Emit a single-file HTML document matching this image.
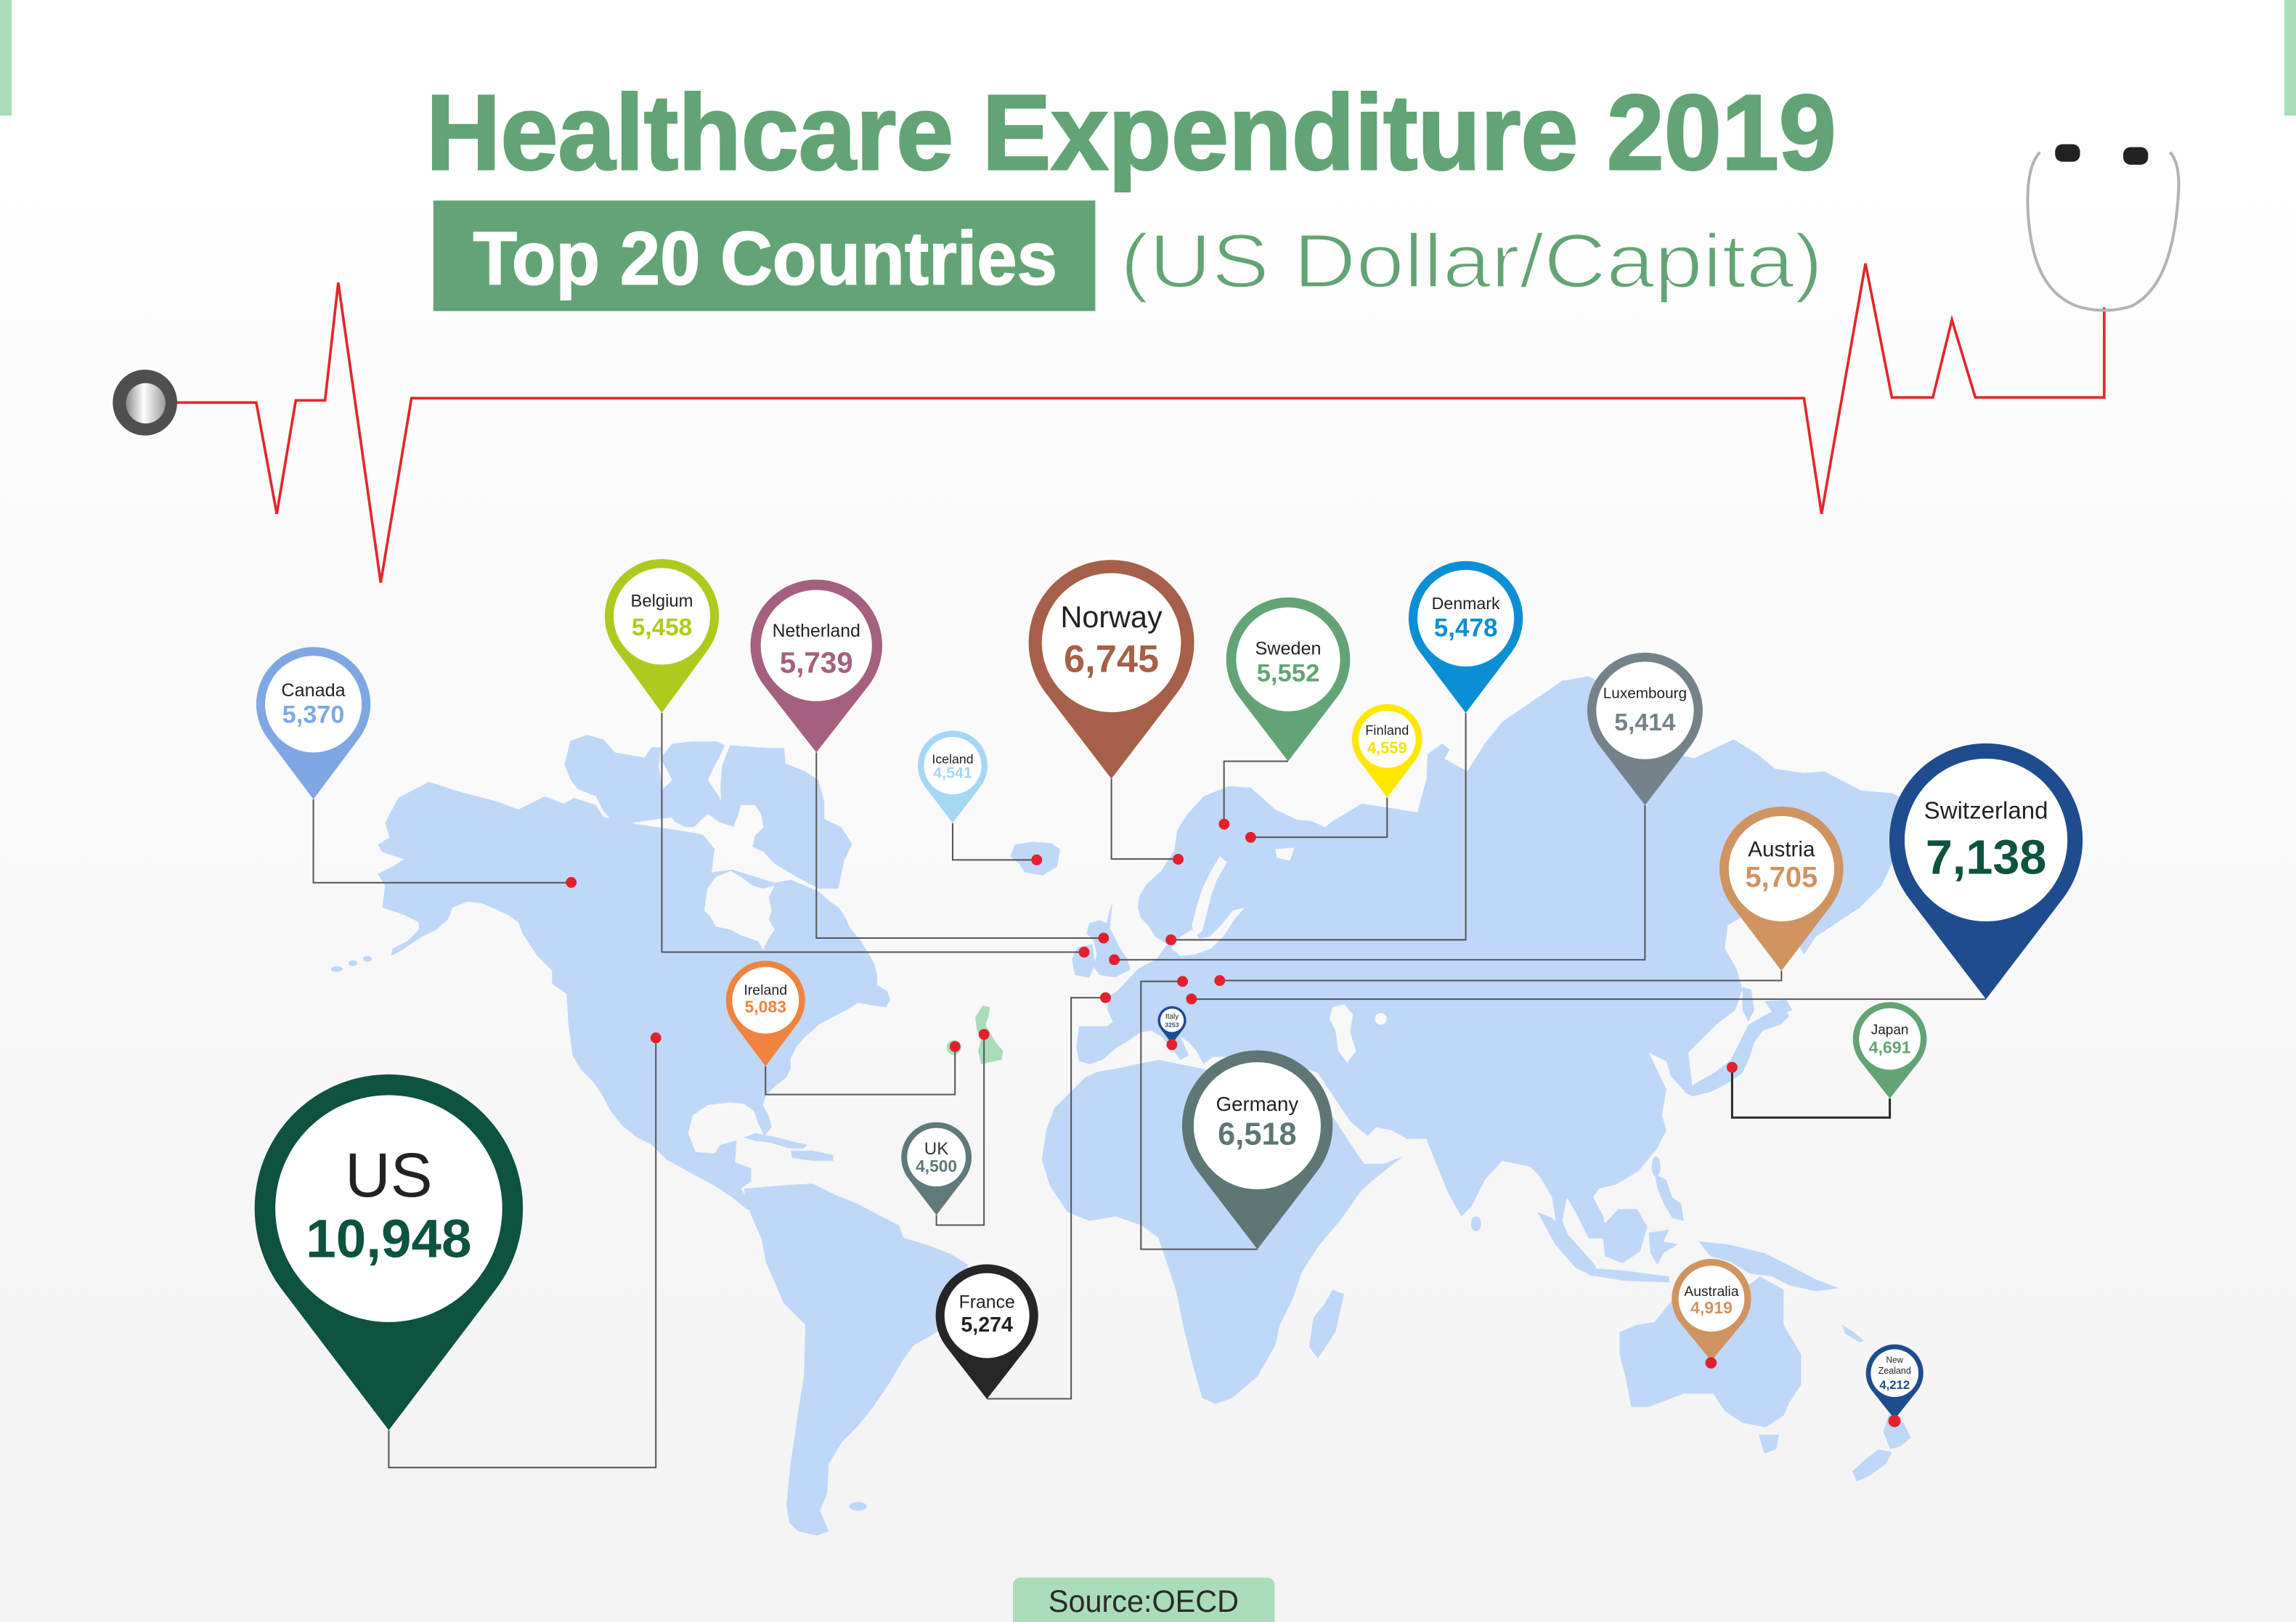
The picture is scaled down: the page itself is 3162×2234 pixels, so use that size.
<!DOCTYPE html>
<html>
<head>
<meta charset="utf-8">
<style>
html,body{margin:0;padding:0;background:#ffffff;}
svg{display:block;}
</style>
</head>
<body>
<svg xmlns="http://www.w3.org/2000/svg" width="3162" height="2234" viewBox="0 0 1568 1108" preserveAspectRatio="none" font-family="'Liberation Sans', Arial, sans-serif">
<defs>
  <linearGradient id="bg" x1="0" y1="0" x2="0" y2="1">
    <stop offset="0" stop-color="#ffffff"/>
    <stop offset="1" stop-color="#f3f3f3"/>
  </linearGradient>
  <linearGradient id="chest" x1="0" y1="0" x2="1" y2="0">
    <stop offset="0" stop-color="#8a8a8a"/>
    <stop offset="0.45" stop-color="#ffffff"/>
    <stop offset="1" stop-color="#9a9a9a"/>
  </linearGradient>
</defs>

<!-- background -->
<rect x="0" y="0" width="1568" height="1108" fill="url(#bg)"/>
<rect x="0" y="0" width="8" height="79" fill="#a9ddb9"/>
<rect x="1560" y="0" width="8" height="79" fill="#a9ddb9"/>

<!-- Titles -->
<text x="291" y="115.6" font-size="73" font-weight="bold" fill="#62a475" stroke="#62a475" stroke-width="1.4" textLength="963" lengthAdjust="spacingAndGlyphs">Healthcare Expenditure 2019</text>
<rect x="296" y="137" width="452" height="75.5" fill="#62a475"/>
<text x="323" y="194.2" font-size="51.5" font-weight="bold" fill="#ffffff" stroke="#ffffff" stroke-width="0.8" textLength="399" lengthAdjust="spacingAndGlyphs">Top 20 Countries</text>
<text x="765" y="196.2" font-size="52" fill="#62a475" stroke="#fbfbfb" stroke-width="1.3" textLength="480" lengthAdjust="spacingAndGlyphs">(US Dollar/Capita)</text>

<!-- ECG line -->
<polyline points="118,275 175,275 189,351 202,273.5 222,273.5 231,193 260,398 281,272 1232,272 1244,351 1274,180 1292,271.5 1320,271.5 1333,218.5 1349,271.5 1437,271.5 1437,210" fill="none" stroke="#e3262c" stroke-width="1.8" stroke-linejoin="miter"/>
<!-- stethoscope tube -->
<path d="M1393,104 C1386,112 1384,126 1385,146 C1387,176 1395,200 1418,209 Q1437,215 1456,209 C1473,200 1482,180 1486,150 C1489,126 1489,112 1482,104" fill="none" stroke="#b3b3b3" stroke-width="2"/>
<rect x="1403.5" y="98.5" width="17" height="12" rx="5" fill="#222"/>
<rect x="1450" y="100.5" width="17" height="12" rx="5" fill="#222"/>
<!-- chest piece -->
<ellipse cx="99" cy="275" rx="22" ry="22.5" fill="#4f4f4f"/>
<ellipse cx="99.5" cy="275.5" rx="13.5" ry="13.8" fill="url(#chest)"/>

<!-- MAP -->
<g fill="#bfd8f8">
  <!-- North America -->
  <path d="M263,562 L272,545 L293,534 L311,540 L341,548 L354,553 L372,544 L385,549 L392,545 L407,550 L412,558 L435,563 L462,567 L480,570 L488,580 L486,596 L500,594 L529,603 L540,601 L550,605 L559,609 L567,616 L573,620 L578,628 L580,633 L588,643 L593,651 L597,658 L599,666 L599,673 L606,677 L608,683 L605,688 L597,687 L586,685 L578,690 L559,700 L555,704 L550,708 L544,715 L540,723 L540,730 L537,736 L527,744 L523,749 L521,755 L525,762 L527,770 L522,776 L518,768 L515,759 L508,754 L498,753 L483,755 L473,762 L470,774 L475,787 L488,788 L492,782 L503,779 L502,794 L513,798 L513,807 L506,812 L511,820 L521,822 L528,827 L524,831 L510,826 L500,818 L488,810 L473,802 L455,792 L445,782 L435,777 L425,769 L417,759 L410,746 L405,739 L397,731 L391,721 L388,698 L387,679 L377,672 L377,663 L367,653 L357,638 L354,630 L347,625 L329,617 L319,616 L309,620 L306,628 L298,635 L288,640 L273,650 L267,653 L268,648 L278,643 L286,635 L286,630 L276,625 L261,620 L263,605 L258,597 L268,592 L276,587 L261,582 L258,577 L266,572 Z"/>
  <ellipse cx="230" cy="662" rx="4" ry="2"/>
  <ellipse cx="241" cy="658" rx="3" ry="2"/>
  <ellipse cx="251" cy="655" rx="3" ry="2"/>
  <!-- Arctic islands -->
  <path d="M389.5,506 L401,502 L412,505 L420,514 L440,517.5 L445,510.5 L451.5,510.5 L450,524 L453,541.5 L463,545 L463,558 L453,559 L435,561.5 L421,564 L412,554 L407,544 L394.5,539 L389.5,532.5 L385.5,522.5 Z"/>
  <path d="M459,508 L472,506.5 L489,506.5 L495,509 L491,518 L487,525 L483.5,533 L491,544 L495,552 L500.5,556 L501.5,565 L491,561.5 L483.5,556 L479.5,559.5 L474,565 L468,565 L461,561.5 L455,554 L451,548 L453,538.5 L459,533 L455,525 L451,518 Z"/>
  <path d="M498.5,509 L525,511 L535.5,511 L536.5,521.5 L550,527 L559,533 L563,548 L563,559.5 L574.5,565 L582,576.5 L576.5,588 L572.5,607 L559,607 L544,599 L529,590 L521.5,582 L514,578.5 L515.5,571 L521.5,565 L519.5,555.5 L515.5,550 L506,550 L504,557.5 L500.5,565 L493,555.5 L492,538.5 L493,523.5 Z"/>
  <!-- Caribbean -->
  <path d="M508,777 L516,774 L531,777 L544,780.5 L551.5,782 L549,784.5 L539,784.5 L526,780.5 L516,779.5 Z"/>
  <path d="M540,786 L555,786 L569,789 L569,793 L555,793 L541,791 Z"/>
  <!-- South America -->
  <path d="M508,812 L531,810 L555,808.5 L570,816 L585,822 L602,831 L614,837 L617,845.5 L635,851 L650,857 L661,864 L660,872 L650,895 L640,910 L624,919 L616,930 L608,944 L595,963 L585,975 L575,985 L566,1000 L565,1020 L560,1032 L566,1046 L558,1049 L545,1046 L539,1040 L537,1028 L540,999 L545,965 L549,940 L550,905 L535,890 L523,862 L520,846 L515,835 L510,822 Z"/>
  <ellipse cx="586" cy="1029" rx="6" ry="3"/>
  <!-- Iceland -->
  <path d="M693,577 L705,575 L718,576 L724,580 L722,592 L712,598 L700,596 L696,590 L690,585 Z"/>
  <!-- Great Britain & Ireland -->
  <path d="M759.7,616.3 L757,625 L756,630.5 L751,628.7 L744,630.5 L742,637.6 L747,643 L749,652 L747,660.6 L751,666 L761.5,667.7 L772,662.4 L770,655.3 L765,648 L761.5,641 L758,634 Z"/>
  <path d="M736,647 L746,645 L748,658 L744,668 L734,666 L732,655 Z"/>
  <!-- Eurasia -->
  <path d="M784,632 L779,627 L777,620 L778,612 L783,604 L793,595 L802,581 L804,567 L811,556 L822,544 L839,537 L854,538 L861,544 L871,553 L886,560 L896,561 L905,565 L910,561 L930,549 L950,552 L968,555 L974,533 L986,518 L1002,527 L1014,508 L1026,493 L1045,480 L1067,465 L1085,462 L1100,470 L1110,490 L1138,514 L1157,518 L1184,505 L1200,515 L1212,525 L1231,528 L1246,527 L1271,540 L1293,542 L1300,546 L1298,570 L1292,590 L1285,605 L1270,620 L1255,630 L1240,640 L1232,652 L1226,642 L1222,625 L1215,610 L1205,618 L1192,625 L1180,632 L1178,648 L1186,662 L1190,676 L1185,690 L1172,700 L1160,712 L1153,719 L1156,744 L1150,745 L1141,735 L1138,725 L1126,719 L1138,744 L1135,762 L1138,772 L1132,784 L1119,800 L1104,809 L1092,812 L1088,818 L1095,831 L1098,846 L1085,846 L1076,828 L1070,818 L1067,834 L1073,849 L1079,862 L1070,855 L1063,838 L1060,818 L1051,803 L1045,797 L1026,793 L1014,806 L1005,824 L998,831 L989,815 L980,793 L974,778 L961,778 L950,772 L940,770 L934,776 L922,766 L910,748 L900,733 L880,726 L860,722 L840,722 L828,722 L822,727 L817,718 L812,712 L806,708 L812,721 L806,724 L800,716 L793,708 L786,704 L779,705 L769,712 L762,716 L753,724 L744,727 L737,725 L735,715 L737,701 L756,701 L760,698 L756,689 L758,680 L763,677 L777,662 L790,655 L797,645 L789,640 Z"/>
  <path d="M975,515 L985,508 L990,512 L980,530 L974,535 Z"/>
  <path d="M1190,674 L1196,676 L1198,690 L1194,698 L1190,690 Z"/>
  <!-- Japan -->
  <path d="M1218,688 L1222,694 L1216,700 L1204,704 L1198,712 L1195,722 L1190,733 L1180,740 L1168,746 L1156,749 L1150,746 L1158,740 L1172,732 L1182,724 L1188,712 L1194,700 L1206,693 Z"/>
  <path d="M1205,684 L1220,683 L1224,690 L1212,694 Z"/>
  <!-- SE Asia -->
  <ellipse cx="1131" cy="797" rx="3" ry="7"/>
  <path d="M1130,802 L1138,806 L1142,818 L1148,822 L1150,834 L1142,832 L1136,822 L1132,812 Z"/>
  <path d="M1094,838 L1105,826 L1118,826 L1125,838 L1120,855 L1108,863 L1096,858 Z"/>
  <path d="M1050,828 L1060,832 L1075,848 L1090,865 L1088,872 L1076,866 L1062,850 Z"/>
  <path d="M1084,866 L1110,868 L1140,872 L1140,876 L1110,875 L1085,871 Z"/>
  <path d="M1126,842 L1140,840 L1136,848 L1146,850 L1136,856 L1132,864 L1127,856 Z"/>
  <path d="M1160,848 L1180,850 L1205,856 L1225,866 L1240,874 L1256,880 L1240,882 L1222,878 L1210,872 L1195,870 L1182,862 L1168,858 Z"/>
  <ellipse cx="1008" cy="836" rx="3.5" ry="5"/>
  <!-- Africa -->
  <path d="M741,736 L732,745 L720,757 L714.5,772 L711.5,792 L717,810 L729,828 L744,834 L762,831 L779.5,837 L791,845.5 L797,863 L803,881 L809,910 L815,934 L821,955 L830,959 L841.5,955 L859,940 L871,919 L874,905 L883,887 L889,869 L900.6,851 L915,834 L930,813 L939,805 L958,790 L945,795 L932,795 L928,790 L915,770 L903,752 L893,735 L850,730 L836,733 L821,730 L791,724 L776.5,727 L762,730 L750,732 Z"/>
  <path d="M910,881 L918,884 L912,910 L900,928 L894,920 L897,900 L905,890 Z"/>
  <!-- Australia / NZ -->
  <path d="M1106,910 L1118,905 L1130,903 L1150,878 L1174,872 L1190,881 L1202,872 L1218,881 L1218,905 L1230,925 L1230,946 L1222,958 L1218,967 L1206,975 L1190,972 L1178,964 L1170,952 L1150,952 L1126,961 L1114,961 L1110,940 L1106,925 Z"/>
  <path d="M1201,980 L1215,980 L1213,990 L1205,993 Z"/>
  <path d="M1290,966 L1300,972 L1305,982 L1298,988 L1291,990 L1286,978 Z"/>
  <path d="M1283,990 L1292,992 L1288,1000 L1277,1008 L1268,1012 L1265,1005 L1275,996 Z"/>
  <path d="M1258,905 L1266,910 L1273,916 L1270,917 L1260,911 Z"/>
</g>
<!-- water bodies -->
<g fill="#f8f8f8">
  <path d="M483,607 L489,599 L499,595 L506,599 L514,605 L521,607 L529,605 L525,613 L527,622 L525,628 L529,635 L525,641 L521,649 L518,643 L506,639 L499,635 L489,633 L485,626 L481,622 Z"/>
  <path d="M833,585 L838,589 L831,601 L827,612 L824,625 L821,636 L816,640 L814,632 L817,620 L821,607 L827,595 Z"/>
  <path d="M800,648 L806,640 L814,635 L819,641 L826,640 L834,632 L842,622 L850,620 L843,628 L836,639 L827,648 L816,652 L806,653 Z"/>
  <path d="M871,580 L884,579 L881,588 L872,586 Z"/>
  <path d="M910,688 L918,686 L924,693 L922,705 L926,718 L920,726 L914,718 L912,704 L908,696 Z"/>
  <ellipse cx="943" cy="696" rx="4" ry="4"/>
</g>
<!-- green UK & Ireland -->
<path d="M671,687 L676,688 L675,695 L673,700 L676,705 L680,712 L685,718 L684,724 L670,727 L668,718 L670,710 L667,703 L666,695 Z" fill="#a9ddb9"/>
<ellipse cx="651.5" cy="715.5" rx="5" ry="5" fill="#a9ddb9"/>

<!-- connector lines -->
<g fill="none" stroke="#555" stroke-width="1">
  <polyline points="214,546 214,603 390,603"/>
  <polyline points="265.5,977 265.5,1002.5 447.9,1002.5 447.9,709"/>
  <polyline points="452,487 452,650.4 740.4,650.4"/>
  <polyline points="557.5,514 557.5,640.8 753.7,640.8"/>
  <polyline points="650.6,562.3 650.6,587.4 708,587.4"/>
  <polyline points="759,532 759,586.8 804.6,586.8"/>
  <polyline points="879.7,520 835.9,520 835.9,563"/>
  <polyline points="947.3,544.8 947.3,571.9 854.1,571.9"/>
  <polyline points="1001,487 1001,642 799.7,642"/>
  <polyline points="1123.4,550.1 1123.4,655.6 761,655.6"/>
  <polyline points="1216.6,663.2 1216.6,669.8 833,669.8"/>
  <polyline points="1356.3,682.5 813.7,682.5"/>
  <polyline points="807.6,670.4 779.2,670.4 779.2,853.4 858.7,853.4"/>
  <polyline points="755,681.5 731.5,681.5 731.5,955.5 674,955.5"/>
  <polyline points="672,706.6 672,836.9 639.5,836.9 639.5,830"/>
  <polyline points="652.2,714.9 652.2,747.7 522.8,747.7 522.8,728.4"/>
</g>
<polyline points="1182.9,729.1 1182.9,763.4 1290.6,763.4 1290.6,750.4" fill="none" stroke="#2b2b2b" stroke-width="1.5"/>

<!-- red dots -->
<g fill="#e3202b">
  <circle cx="390.1" cy="602.8" r="3.7"/>
  <circle cx="447.9" cy="709" r="3.7"/>
  <circle cx="740.4" cy="650.4" r="3.7"/>
  <circle cx="753.7" cy="640.8" r="3.7"/>
  <circle cx="708" cy="587.4" r="3.7"/>
  <circle cx="804.6" cy="587" r="3.7"/>
  <circle cx="836" cy="563" r="3.7"/>
  <circle cx="854.1" cy="572" r="3.7"/>
  <circle cx="799.7" cy="642" r="3.7"/>
  <circle cx="761" cy="655.6" r="3.7"/>
  <circle cx="833" cy="669.8" r="3.7"/>
  <circle cx="813.7" cy="682.4" r="3.7"/>
  <circle cx="807.6" cy="670.4" r="3.7"/>
  <circle cx="755" cy="681.5" r="3.7"/>
  <circle cx="672" cy="706.6" r="3.7"/>
  <circle cx="652.2" cy="714.9" r="3.7"/>
  <circle cx="1182.9" cy="729.1" r="3.7"/>
</g>

<!-- PINS -->
<!-- Canada -->
<path d="M214,546 L182.8,504.4 A39,39 0 1,1 245.2,504.4 Z" fill="#7fa7e4"/>
<circle cx="214" cy="481" r="33" fill="#fff"/>
<text x="214" y="475.7" font-size="12.5" text-anchor="middle" fill="#222">Canada</text>
<text x="214" y="493.7" font-size="17" font-weight="bold" text-anchor="middle" fill="#7fa7e4">5,370</text>

<!-- Belgium -->
<path d="M452,487 L420.6,444 A39,39 0 1,1 483.4,444 Z" fill="#afca1f"/>
<circle cx="452" cy="421" r="33" fill="#fff"/>
<text x="452" y="414.5" font-size="11.8" text-anchor="middle" fill="#222">Belgium</text>
<text x="452" y="433.9" font-size="16.5" font-weight="bold" text-anchor="middle" fill="#afca1f">5,458</text>

<!-- Netherland -->
<path d="M557.5,514 L522.1,468.7 A45,45 0 1,1 592.9,468.7 Z" fill="#a5607f"/>
<circle cx="557.5" cy="441" r="38" fill="#fff"/>
<text x="557.5" y="435" font-size="12.3" text-anchor="middle" fill="#222">Netherland</text>
<text x="557.5" y="459.4" font-size="20" font-weight="bold" text-anchor="middle" fill="#a5607f">5,739</text>

<!-- Norway -->
<path d="M759,532 L714.1,473.3 A56.5,56.5 0 1,1 803.9,473.3 Z" fill="#a65f48"/>
<circle cx="759" cy="439" r="47.5" fill="#fff"/>
<text x="759" y="428.6" font-size="20.5" text-anchor="middle" fill="#222">Norway</text>
<text x="759" y="459" font-size="26" font-weight="bold" text-anchor="middle" fill="#a65f48">6,745</text>

<!-- Iceland -->
<path d="M650.6,562.3 L631.7,537.4 A23.8,23.8 0 1,1 669.5,537.4 Z" fill="#a6d8f5"/>
<circle cx="650.6" cy="523" r="19.6" fill="#fff"/>
<text x="650.6" y="521.5" font-size="8.8" text-anchor="middle" fill="#222">Iceland</text>
<text x="650.6" y="531.4" font-size="10.6" font-weight="bold" text-anchor="middle" fill="#a6d8f5">4,541</text>

<!-- Ireland -->
<path d="M522.8,728.4 L501.2,699.5 A27,27 0 1,1 544.4,699.5 Z" fill="#f0833f"/>
<circle cx="522.8" cy="683.3" r="22.8" fill="#fff"/>
<text x="522.8" y="679.4" font-size="9.7" text-anchor="middle" fill="#222">Ireland</text>
<text x="522.8" y="691.7" font-size="11.4" font-weight="bold" text-anchor="middle" fill="#f0833f">5,083</text>

<!-- US -->
<path d="M265.5,977 L192.6,881 A91.6,91.6 0 1,1 338.4,881 Z" fill="#0e5240"/>
<circle cx="265.5" cy="825.6" r="77.5" fill="#fff"/>
<text x="265.5" y="817.4" font-size="43" text-anchor="middle" fill="#222">US</text>
<text x="265.5" y="858.8" font-size="37" font-weight="bold" text-anchor="middle" fill="#0e5240">10,948</text>

<!-- UK -->
<path d="M639.5,830 L620.4,805.1 A24,24 0 1,1 658.6,805.1 Z" fill="#5f7a78"/>
<circle cx="639.5" cy="790.5" r="20" fill="#fff"/>
<text x="639.5" y="788.5" font-size="12" text-anchor="middle" fill="#333">UK</text>
<text x="639.5" y="800.6" font-size="11.3" font-weight="bold" text-anchor="middle" fill="#5f7a78">4,500</text>

<!-- France -->
<path d="M674,955.7 L646.4,920.2 A35,35 0 1,1 701.6,920.2 Z" fill="#262626"/>
<circle cx="674" cy="898.7" r="29" fill="#fff"/>
<text x="674" y="893.6" font-size="12.3" text-anchor="middle" fill="#222">France</text>
<text x="674" y="909.6" font-size="14.2" font-weight="bold" text-anchor="middle" fill="#222">5,274</text>

<!-- Germany -->
<path d="M858.7,853.4 L818,800.3 A51.4,51.4 0 1,1 899.4,800.3 Z" fill="#5e7674"/>
<circle cx="858.6" cy="769" r="43.4" fill="#fff"/>
<text x="858.6" y="758.9" font-size="13.7" text-anchor="middle" fill="#222">Germany</text>
<text x="858.6" y="782" font-size="21.5" font-weight="bold" text-anchor="middle" fill="#5e7674">6,518</text>

<!-- Italy -->
<path d="M800.4,712.9 L792.7,703 A9.75,9.75 0 1,1 808.1,703 Z" fill="#1f4c8f"/>
<circle cx="800.4" cy="697" r="8" fill="#fff"/>
<text x="800.4" y="695.8" font-size="5" text-anchor="middle" fill="#222">Italy</text>
<text x="800.4" y="701.5" font-size="4.3" font-weight="bold" text-anchor="middle" fill="#1f4c8f">3253</text>
<circle cx="800.3" cy="713.6" r="3.7" fill="#e3202b"/>

<!-- Sweden -->
<path d="M879.7,520 L846.1,476.1 A42.3,42.3 0 1,1 913.3,476.1 Z" fill="#62a475"/>
<circle cx="879.7" cy="450.4" r="35.5" fill="#fff"/>
<text x="879.7" y="447" font-size="12.5" text-anchor="middle" fill="#222">Sweden</text>
<text x="879.7" y="465.5" font-size="17.2" font-weight="bold" text-anchor="middle" fill="#62a475">5,552</text>

<!-- Finland -->
<path d="M947.3,544.8 L928.2,519.5 A24,24 0 1,1 966.4,519.5 Z" fill="#ffe800"/>
<circle cx="947.3" cy="505" r="19.5" fill="#fff"/>
<text x="947.3" y="502" font-size="9.1" text-anchor="middle" fill="#222">Finland</text>
<text x="947.3" y="514.5" font-size="10.9" font-weight="bold" text-anchor="middle" fill="#f7e000">4,559</text>

<!-- Denmark -->
<path d="M1001,487 L969.9,445.8 A39,39 0 1,1 1032.1,445.8 Z" fill="#0a8fd5"/>
<circle cx="1001" cy="422.3" r="33" fill="#fff"/>
<text x="1001" y="416.2" font-size="11.5" text-anchor="middle" fill="#222">Denmark</text>
<text x="1001" y="434.6" font-size="17.4" font-weight="bold" text-anchor="middle" fill="#0a8fd5">5,478</text>

<!-- Luxembourg -->
<path d="M1123.4,550.1 L1092.2,509.3 A39.4,39.4 0 1,1 1154.6,509.3 Z" fill="#74828a"/>
<circle cx="1123.4" cy="485.3" r="33.3" fill="#fff"/>
<text x="1123.4" y="477" font-size="10.3" text-anchor="middle" fill="#222">Luxembourg</text>
<text x="1123.4" y="499" font-size="16.7" font-weight="bold" text-anchor="middle" fill="#74828a">5,414</text>

<!-- Austria -->
<path d="M1216.6,663.2 L1183,619 A42.3,42.3 0 1,1 1250.2,619 Z" fill="#d09461"/>
<circle cx="1216.6" cy="593.4" r="36" fill="#fff"/>
<text x="1216.6" y="585.1" font-size="14.7" text-anchor="middle" fill="#222">Austria</text>
<text x="1216.6" y="605.9" font-size="19.8" font-weight="bold" text-anchor="middle" fill="#d09461">5,705</text>

<!-- Switzerland -->
<path d="M1356.3,682.6 L1303.8,613.8 A66,66 0 1,1 1408.8,613.8 Z" fill="#1f4c8f"/>
<circle cx="1356.3" cy="573.8" r="55.6" fill="#fff"/>
<text x="1356.3" y="559.1" font-size="16.4" text-anchor="middle" fill="#222">Switzerland</text>
<text x="1356.3" y="597" font-size="33" font-weight="bold" text-anchor="middle" fill="#0e5240">7,138</text>

<!-- Japan -->
<path d="M1290.6,750.4 L1270.8,725.3 A25.2,25.2 0 1,1 1310.4,725.3 Z" fill="#62a475"/>
<circle cx="1290.6" cy="709.7" r="21" fill="#fff"/>
<text x="1290.6" y="706.5" font-size="9.4" text-anchor="middle" fill="#222">Japan</text>
<text x="1290.6" y="719.4" font-size="11.5" font-weight="bold" text-anchor="middle" fill="#62a475">4,691</text>

<!-- Australia -->
<path d="M1168.7,929.7 L1147.9,904.3 A27.1,27.1 0 1,1 1189.7,904.3 Z" fill="#d09461"/>
<circle cx="1168.8" cy="887.1" r="22.5" fill="#fff"/>
<text x="1168.8" y="885.4" font-size="9.6" text-anchor="middle" fill="#222">Australia</text>
<text x="1168.8" y="897.2" font-size="11.5" font-weight="bold" text-anchor="middle" fill="#d09461">4,919</text>
<circle cx="1168.5" cy="931" r="3.9" fill="#e3202b"/>

<!-- New Zealand -->
<path d="M1293.9,969.5 L1278.6,950.2 A19.6,19.6 0 1,1 1309.2,950.2 Z" fill="#1f4c8f"/>
<circle cx="1293.9" cy="938" r="16.3" fill="#fff"/>
<text x="1293.9" y="931" font-size="5.8" text-anchor="middle" fill="#222">New</text>
<text x="1293.9" y="938.5" font-size="6.2" text-anchor="middle" fill="#222">Zealand</text>
<text x="1293.9" y="948.9" font-size="8.3" font-weight="bold" text-anchor="middle" fill="#1f4c8f">4,212</text>
<circle cx="1293.8" cy="970.7" r="4.2" fill="#e3202b"/>

<!-- Source box -->
<rect x="691.8" y="1077.7" width="178.7" height="40" rx="5" fill="#a9ddb9"/>
<text x="781" y="1101" font-size="21" text-anchor="middle" fill="#2a2a2a" textLength="130" lengthAdjust="spacingAndGlyphs">Source:OECD</text>
</svg>
</body>
</html>
